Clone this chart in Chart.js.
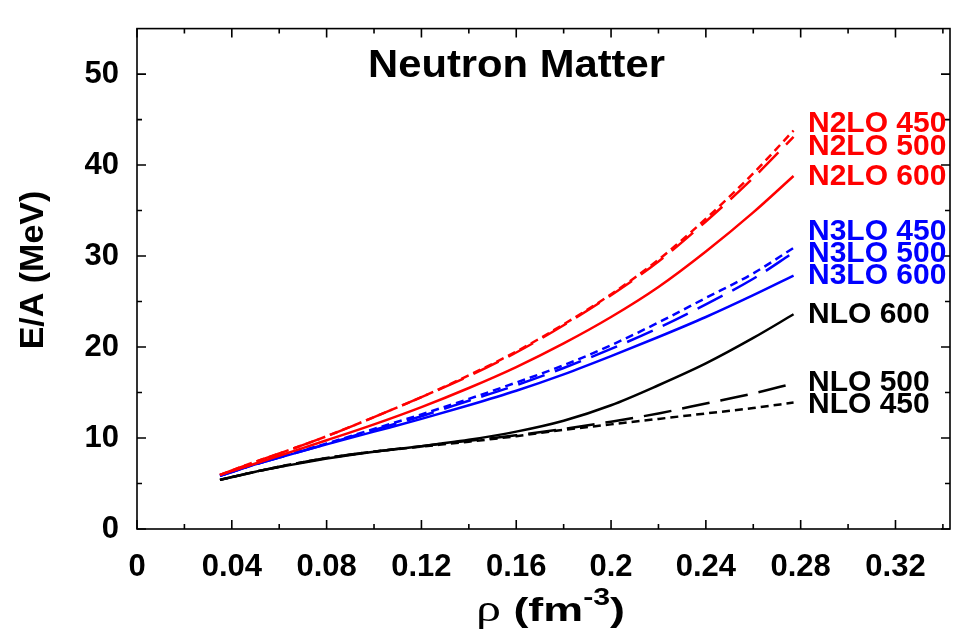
<!DOCTYPE html>
<html lang="en">
<head>
<meta charset="UTF-8">
<title>Neutron Matter</title>
<script src="https://cdn.jsdelivr.net/npm/chart.js"></script>
<style>
  html, body { margin: 0; padding: 0; background: #fff; }
  #wrap { width: 953px; height: 636px; }
</style>
</head>
<body>
<div id="wrap"><canvas id="chart" width="953" height="636"></canvas></div>
<script>
// density grid (fm^-3) and E/A (MeV)
const rho     = [0.035, 0.05, 0.06, 0.08, 0.10, 0.12, 0.14, 0.16, 0.18, 0.20, 0.22, 0.24, 0.26, 0.277];
const n2lo450 = [5.95, 7.4, 8.3, 10.2, 12.3, 14.5, 16.9, 19.5, 22.5, 25.8, 29.6, 34.1, 39.1, 43.8];
const n2lo500 = [5.95, 7.4, 8.3, 10.2, 12.3, 14.5, 16.8, 19.4, 22.4, 25.7, 29.4, 33.8, 38.6, 43.1];
const n2lo600 = [5.95, 7.2, 8.05, 9.75, 11.5, 13.4, 15.5, 17.8, 20.4, 23.3, 26.6, 30.5, 34.8, 38.8];
const n3lo450 = [5.85, 7.1, 7.9, 9.4, 11.0, 12.6, 14.3, 16.1, 18.0, 20.2, 22.7, 25.4, 28.1, 30.9];
const n3lo500 = [5.85, 7.1, 7.85, 9.35, 10.9, 12.4, 14.1, 15.8, 17.7, 19.8, 22.1, 24.7, 27.5, 30.4];
const n3lo600 = [5.85, 7.1, 7.85, 9.3, 10.7, 12.1, 13.6, 15.2, 17.0, 19.0, 21.1, 23.3, 25.7, 27.85];
const nlo600  = [5.4, 6.3, 6.8, 7.75, 8.5, 9.1, 9.8, 10.7, 11.9, 13.6, 15.8, 18.2, 21.0, 23.6];
const nlo500  = [5.4, 6.3, 6.85, 7.8, 8.5, 9.1, 9.7, 10.3, 11.0, 11.8, 12.7, 13.8, 14.9, 16.0];
const nlo450  = [5.4, 6.3, 6.85, 7.8, 8.5, 9.05, 9.6, 10.2, 10.9, 11.5, 12.1, 12.7, 13.3, 13.9];

const xTicks = [0, 0.04, 0.08, 0.12, 0.16, 0.2, 0.24, 0.28, 0.32];
const xTickLabels = ['0', '0.04', '0.08', '0.12', '0.16', '0.2', '0.24', '0.28', '0.32'];
const xMinor = [0.02, 0.06, 0.10, 0.14, 0.18, 0.22, 0.26, 0.30, 0.34];
const yTicks = [0, 10, 20, 30, 40, 50];
const yMinor = [5, 15, 25, 35, 45];

const RED = '#ff0000', BLUE = '#0000ff', BLACK = '#000000';
const SHORT = [8, 5], LONG = [28, 11];

function pts(arr) { return rho.map((r, i) => ({ x: r, y: arr[i] })); }
function series(label, arr, color, dash) {
    return {
        label: label, data: pts(arr), borderColor: color, borderDash: dash,
        borderWidth: 2.5, pointRadius: 0, fill: false,
        cubicInterpolationMode: 'monotone'
    };
}

// labels at the right end of the curves (y in MeV, baseline)
const curveLabels = [
    { text: 'N2LO 450', color: RED, y: 43.6 },
    { text: 'N2LO 500', color: RED, y: 41.1 },
    { text: 'N2LO 600', color: RED, y: 37.8 },
    { text: 'N3LO 450', color: BLUE, y: 31.8 },
    { text: 'N3LO 500', color: BLUE, y: 29.3 },
    { text: 'N3LO 600', color: BLUE, y: 26.9 },
    { text: 'NLO 600', color: BLACK, y: 22.6 },
    { text: 'NLO 500', color: BLACK, y: 15.2 },
    { text: 'NLO 450', color: BLACK, y: 12.8 }
];

const FONT = "'Liberation Sans', Arial, Helvetica, sans-serif";

const decorations = {
    id: 'decorations',
    afterDraw(chart) {
        const { ctx, chartArea: a, scales: { x, y } } = chart;
        ctx.save();
        // frame and inward ticks on all four sides
        ctx.strokeStyle = '#000';
        ctx.lineWidth = 1.6;
        ctx.strokeRect(a.left, a.top, a.right - a.left, a.bottom - a.top);
        ctx.beginPath();
        const xt = (v, len) => {
            const px = x.getPixelForValue(v);
            ctx.moveTo(px, a.bottom); ctx.lineTo(px, a.bottom - len);
            ctx.moveTo(px, a.top); ctx.lineTo(px, a.top + len);
        };
        const yt = (v, len) => {
            const py = y.getPixelForValue(v);
            ctx.moveTo(a.left, py); ctx.lineTo(a.left + len, py);
            ctx.moveTo(a.right, py); ctx.lineTo(a.right - len, py);
        };
        xTicks.forEach(v => xt(v, 9));
        xMinor.forEach(v => xt(v, 5));
        yTicks.forEach(v => yt(v, 9));
        yMinor.forEach(v => yt(v, 5));
        ctx.stroke();

        // title inside the plot, slightly wide like the original
        ctx.fillStyle = '#000';
        ctx.textBaseline = 'alphabetic';
        ctx.font = 'bold 38px ' + FONT;
        const tw = ctx.measureText('Neutron Matter').width;
        ctx.save();
        ctx.translate(368, 77);
        ctx.scale(297 / tw, 1);
        ctx.textAlign = 'left';
        ctx.fillText('Neutron Matter', 0, 0);
        ctx.restore();

        // curve labels
        ctx.textAlign = 'left';
        ctx.font = 'bold 30px ' + FONT;
        curveLabels.forEach(l => {
            ctx.fillStyle = l.color;
            ctx.fillText(l.text, 808, y.getPixelForValue(l.y));
        });

        // y axis title
        ctx.fillStyle = '#000';
        ctx.save();
        ctx.translate(34, 270);
        ctx.rotate(-Math.PI / 2);
        ctx.textAlign = 'center';
        ctx.textBaseline = 'middle';
        ctx.font = 'bold 34px ' + FONT;
        ctx.fillText('E/A (MeV)', 0, 0);
        ctx.restore();

        // x axis title: rho (fm^-3), stretched to the original width
        const parts = [
            { t: 'ρ', f: "38px 'Liberation Serif', 'DejaVu Serif', serif", dy: 0 },
            { t: ' (fm', f: 'bold 34px ' + FONT, dy: 0 },
            { t: '-3', f: 'bold 23px ' + FONT, dy: -16 },
            { t: ')', f: 'bold 34px ' + FONT, dy: 0 }
        ];
        let total = 0;
        parts.forEach(p => { ctx.font = p.f; p.w = ctx.measureText(p.t).width; total += p.w; });
        ctx.save();
        ctx.translate(476, 621);
        ctx.scale(149 / total, 1);
        ctx.textAlign = 'left';
        ctx.textBaseline = 'alphabetic';
        let cx = 0;
        parts.forEach(p => { ctx.font = p.f; ctx.fillText(p.t, cx, p.dy); cx += p.w; });
        ctx.restore();
        ctx.restore();
    }
};

new Chart(document.getElementById('chart'), {
    type: 'line',
    data: {
        datasets: [
            series('N2LO 450', n2lo450, RED, SHORT),
            series('N2LO 500', n2lo500, RED, LONG),
            series('N2LO 600', n2lo600, RED, []),
            series('N3LO 450', n3lo450, BLUE, SHORT),
            series('N3LO 500', n3lo500, BLUE, LONG),
            series('N3LO 600', n3lo600, BLUE, []),
            series('NLO 600', nlo600, BLACK, []),
            series('NLO 500', nlo500, BLACK, LONG),
            series('NLO 450', nlo450, BLACK, SHORT)
        ]
    },
    options: {
        responsive: false,
        animation: false,
        devicePixelRatio: 1,
        layout: { padding: { top: 9, right: 3, left: 0, bottom: 0 } },
        plugins: { legend: { display: false }, tooltip: { enabled: false } },
        scales: {
            x: {
                type: 'linear', min: 0, max: 0.343,
                afterBuildTicks: s => { s.ticks = xTicks.map(v => ({ value: v })); },
                afterFit: s => { s.height = 107; },
                grid: { display: false },
                border: { display: false },
                ticks: {
                    callback: (v, i) => xTickLabels[i],
                    font: { family: FONT, size: 31, weight: 'bold' },
                    color: '#000', padding: 12, maxRotation: 0, autoSkip: false
                }
            },
            y: {
                type: 'linear', min: 0, max: 55,
                afterBuildTicks: s => { s.ticks = yTicks.map(v => ({ value: v })); },
                afterFit: s => { s.width = 137; },
                grid: { display: false },
                border: { display: false },
                ticks: {
                    font: { family: FONT, size: 31, weight: 'bold' },
                    color: '#000', padding: 10
                }
            }
        }
    },
    plugins: [decorations]
});
</script>
</body>
</html>
